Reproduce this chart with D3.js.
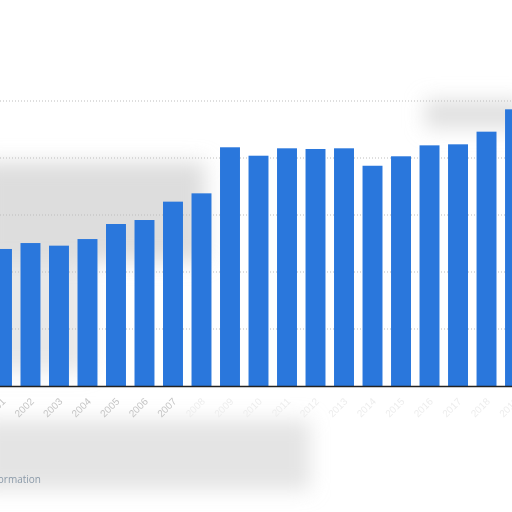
<!DOCTYPE html>
<html>
<head>
<meta charset="utf-8">
<script src="https://cdn.jsdelivr.net/npm/d3@7"></script>
<style>
  body { margin: 0; background: #fff; }
  svg { display: block; font-family: "Open Sans", sans-serif; }
</style>
</head>
<body>
<script>
// years shown (chart is cropped on the left, right and top)
var years = ["2001", "2002", "2003", "2004", "2005", "2006", "2007", "2008", "2009", "2010",
    "2011", "2012", "2013", "2014", "2015", "2016", "2017", "2018", "2019"]
var values = [120.2, 125.4, 123.1, 128.9, 142.1, 145.6, 161.7, 169.0, 209.4, 202.0,
    208.5, 207.9, 208.5, 193.2, 201.5, 211.1, 212.0, 223.1, 242.7]
var ticks = [0, 50, 100, 150, 200, 250]

const width = 512
const height = 512

var svg = d3.select("body").append("svg").attr("width", width).attr("height", height)

// soft gray smudges seen in the picture
var defs = svg.append("defs")
defs.append("filter").attr("id", "blur").append("feGaussianBlur").attr("stdDeviation", 10)
var smudge = svg.append("g").attr("filter", "url(#blur)").attr("fill", "#d2d2d2")
smudge.append("rect").attr("x", -20).attr("y", 162).attr("width", 225).attr("height", 100).attr("opacity", 0.75)
smudge.append("rect").attr("x", -20).attr("y", 262).attr("width", 110).attr("height", 110).attr("opacity", 0.5)
smudge.append("rect").attr("x", -20).attr("y", 420).attr("width", 330).attr("height", 70).attr("opacity", 0.6)
smudge.append("rect").attr("x", 425).attr("y", 100).attr("width", 100).attr("height", 28).attr("opacity", 0.7)

var xScale = d3.scaleBand().domain(years).range([-8, 525]).paddingInner(0.3).paddingOuter(0)
var yScale = d3.scaleLinear().domain([0, 250]).range([386, 101])

// dotted grid
svg.append("g").selectAll("line").data(ticks.slice(1)).enter()
    .append("line")
    .attr("x1", 0).attr("x2", width)
    .attr("y1", (d) => yScale(d)).attr("y2", (d) => yScale(d))
    .attr("stroke", "#bdbdbd")
    .attr("stroke-dasharray", "1,2")

svg.append("g").selectAll("rect").data(values).enter()
    .append("rect")
    .attr("x", (d, i) => xScale(years[i]))
    .attr("y", (d) => yScale(d))
    .attr("width", xScale.bandwidth())
    .attr("height", (d) => yScale(0) - yScale(d))
    .attr("fill", "#2a77dc")

// x axis with rotated year labels
var xAxis = svg.append("g")
    .attr("transform", "translate(0," + yScale(0) + ")")
    .call(d3.axisBottom(xScale).tickSize(0).tickPadding(0))
xAxis.select(".domain").attr("stroke", "#222").attr("stroke-width", 1.5)
xAxis.selectAll("text")
    .attr("transform", "translate(2,14) rotate(-45)")
    .attr("text-anchor", "end")
    .attr("dy", "0.3em")
    .attr("fill", (d, i) => i < 7 ? "#c4c4c4" : "#ededed")
    .attr("font-size", 10)

svg.append("text")
    .attr("x", 41).attr("y", 483)
    .attr("text-anchor", "end")
    .attr("font-size", 10)
    .attr("fill", "#8b9aa9")
    .text("Additional Information")
</script>
</body>
</html>
